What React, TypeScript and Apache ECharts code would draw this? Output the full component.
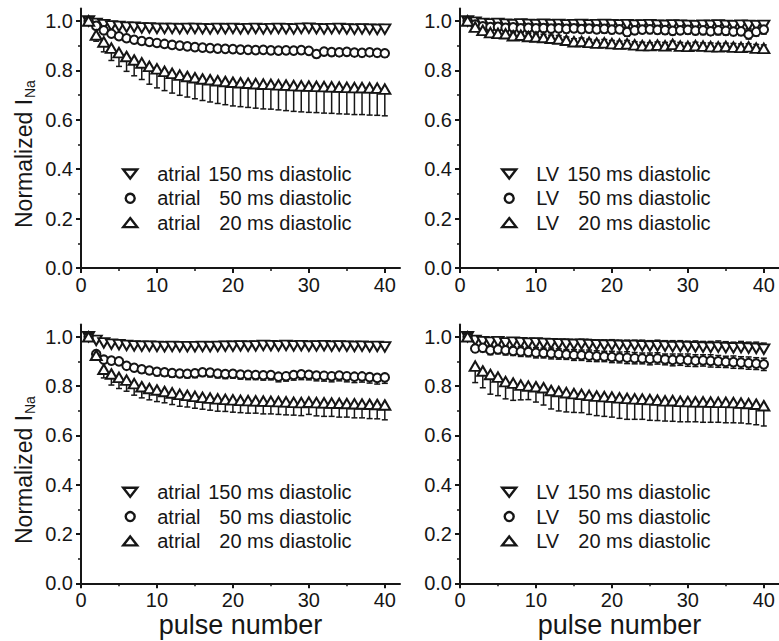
import React, { useEffect, useRef } from "react";
import * as echarts from "echarts";

// ---------- data ----------
const pulseNumbers = [1, 2, 3, 4, 5, 6, 7, 8, 9, 10, 11, 12, 13, 14, 15, 16, 17, 18, 19, 20,
  21, 22, 23, 24, 25, 26, 27, 28, 29, 30, 31, 32, 33, 34, 35, 36, 37, 38, 39, 40];

const xTickValues = [0, 10, 20, 30, 40];
const xMinorTickValues = [5, 15, 25, 35];
const yTickValues = [0, 0.2, 0.4, 0.6, 0.8, 1.0];
const yMinorTickValues = [0.1, 0.3, 0.5, 0.7, 0.9];

// top-left: atrial, set 1
const atrialA150 = [1.0, 0.99, 0.985, 0.98, 0.978, 0.975, 0.975, 0.972, 0.972, 0.97, 0.97, 0.97, 0.969, 0.97, 0.97, 0.969, 0.968, 0.97, 0.969, 0.97, 0.968, 0.969, 0.97, 0.968, 0.969, 0.97, 0.969, 0.968, 0.97, 0.971, 0.969, 0.968, 0.969, 0.97, 0.968, 0.967, 0.968, 0.967, 0.966, 0.967];
const atrialA150Err = [0, 0.005, 0.006, 0.006, 0.007, 0.007, 0.008, 0.007, 0.008, 0.008, 0.008, 0.007, 0.008, 0.008, 0.009, 0.008, 0.008, 0.009, 0.008, 0.009, 0.009, 0.008, 0.009, 0.009, 0.01, 0.009, 0.009, 0.01, 0.009, 0.01, 0.01, 0.009, 0.01, 0.01, 0.01, 0.011, 0.01, 0.01, 0.011, 0.011];
const atrialA50 = [1.0, 0.98, 0.962, 0.948, 0.938, 0.93, 0.924, 0.919, 0.915, 0.911, 0.907, 0.903, 0.9, 0.897, 0.894, 0.892, 0.89, 0.888, 0.887, 0.886, 0.884, 0.883, 0.882, 0.883, 0.881, 0.88, 0.881, 0.88, 0.882, 0.879, 0.866, 0.876, 0.874, 0.873, 0.875, 0.872, 0.871, 0.873, 0.871, 0.869];
const atrialA50Err = [0, 0.006, 0.008, 0.008, 0.009, 0.009, 0.01, 0.01, 0.011, 0.01, 0.011, 0.011, 0.012, 0.011, 0.012, 0.012, 0.012, 0.013, 0.012, 0.013, 0.013, 0.012, 0.013, 0.013, 0.014, 0.013, 0.014, 0.013, 0.014, 0.014, 0.015, 0.014, 0.014, 0.015, 0.014, 0.015, 0.015, 0.014, 0.015, 0.015];
const atrialA20 = [1.0, 0.943, 0.915, 0.89, 0.872, 0.856, 0.842, 0.83, 0.816, 0.806, 0.796, 0.788, 0.781, 0.775, 0.77, 0.765, 0.762, 0.758, 0.755, 0.752, 0.75, 0.748, 0.746, 0.744, 0.743, 0.741, 0.74, 0.738, 0.737, 0.736, 0.735, 0.734, 0.733, 0.732, 0.731, 0.73, 0.73, 0.729, 0.728, 0.724];
const atrialA20Err = [0, 0.025, 0.04, 0.05, 0.056, 0.06, 0.064, 0.067, 0.072, 0.077, 0.078, 0.08, 0.082, 0.083, 0.085, 0.087, 0.09, 0.092, 0.094, 0.096, 0.097, 0.098, 0.099, 0.1, 0.1, 0.101, 0.103, 0.104, 0.105, 0.106, 0.106, 0.107, 0.107, 0.108, 0.108, 0.109, 0.109, 0.11, 0.11, 0.108];

// top-right: LV, set 1
const lvA150 = [1.0, 0.995, 0.99, 0.988, 0.99, 0.987, 0.985, 0.988, 0.986, 0.985, 0.987, 0.985, 0.986, 0.984, 0.985, 0.986, 0.984, 0.985, 0.986, 0.985, 0.984, 0.985, 0.983, 0.984, 0.985, 0.983, 0.982, 0.984, 0.983, 0.982, 0.981, 0.983, 0.982, 0.984, 0.982, 0.981, 0.983, 0.982, 0.981, 0.982];
const lvA150Err = [0, 0.01, 0.012, 0.011, 0.013, 0.012, 0.011, 0.013, 0.012, 0.012, 0.013, 0.011, 0.012, 0.013, 0.012, 0.014, 0.012, 0.013, 0.012, 0.013, 0.014, 0.012, 0.013, 0.014, 0.013, 0.012, 0.014, 0.013, 0.014, 0.012, 0.013, 0.014, 0.013, 0.012, 0.014, 0.013, 0.014, 0.013, 0.014, 0.013];
const lvA50 = [1.0, 0.985, 0.978, 0.975, 0.976, 0.972, 0.974, 0.97, 0.972, 0.97, 0.971, 0.969, 0.97, 0.968, 0.97, 0.967, 0.969, 0.966, 0.968, 0.965, 0.966, 0.955, 0.962, 0.965, 0.966, 0.964, 0.963, 0.96, 0.962, 0.964, 0.961, 0.962, 0.958, 0.962, 0.96, 0.957, 0.958, 0.945, 0.956, 0.965];
const lvA50Err = [0, 0.012, 0.014, 0.013, 0.015, 0.014, 0.015, 0.014, 0.016, 0.015, 0.014, 0.016, 0.015, 0.016, 0.015, 0.014, 0.016, 0.015, 0.017, 0.016, 0.015, 0.017, 0.016, 0.015, 0.017, 0.016, 0.017, 0.016, 0.015, 0.017, 0.016, 0.017, 0.016, 0.018, 0.017, 0.016, 0.017, 0.018, 0.017, 0.018];
const lvA20 = [1.0, 0.975, 0.962, 0.953, 0.95, 0.948, 0.94, 0.942, 0.937, 0.935, 0.933, 0.93, 0.927, 0.922, 0.916, 0.917, 0.913, 0.91, 0.911, 0.908, 0.906, 0.907, 0.903, 0.9, 0.9, 0.902, 0.899, 0.905, 0.898, 0.897, 0.9, 0.898, 0.896, 0.895, 0.897, 0.894, 0.893, 0.895, 0.89, 0.889];
const lvA20Err = [0, 0.01, 0.012, 0.011, 0.012, 0.013, 0.012, 0.011, 0.013, 0.012, 0.013, 0.012, 0.014, 0.013, 0.012, 0.014, 0.013, 0.012, 0.014, 0.013, 0.012, 0.014, 0.013, 0.014, 0.012, 0.013, 0.014, 0.013, 0.015, 0.013, 0.014, 0.013, 0.015, 0.014, 0.013, 0.015, 0.014, 0.013, 0.015, 0.014];

// bottom-left: atrial, set 2
const atrialB150 = [1.0, 0.985, 0.975, 0.97, 0.968, 0.965, 0.963, 0.962, 0.962, 0.961, 0.96, 0.961, 0.96, 0.96, 0.96, 0.961, 0.96, 0.961, 0.962, 0.962, 0.963, 0.962, 0.963, 0.965, 0.964, 0.963, 0.965, 0.963, 0.964, 0.962, 0.963, 0.964, 0.962, 0.963, 0.962, 0.961, 0.962, 0.96, 0.961, 0.959];
const atrialB150Err = [0, 0.006, 0.007, 0.007, 0.008, 0.008, 0.009, 0.008, 0.009, 0.009, 0.008, 0.009, 0.009, 0.01, 0.009, 0.01, 0.009, 0.01, 0.01, 0.009, 0.01, 0.011, 0.01, 0.01, 0.011, 0.01, 0.011, 0.01, 0.011, 0.011, 0.01, 0.011, 0.012, 0.011, 0.011, 0.012, 0.011, 0.012, 0.012, 0.012];
const atrialB50 = [1.0, 0.93, 0.907, 0.903, 0.9, 0.882, 0.874, 0.868, 0.863, 0.858, 0.856, 0.853, 0.851, 0.85, 0.852, 0.856, 0.855, 0.851, 0.849, 0.85, 0.847, 0.846, 0.845, 0.844, 0.845, 0.838, 0.84, 0.845, 0.848, 0.846, 0.843, 0.842, 0.84, 0.843, 0.84, 0.838, 0.839, 0.836, 0.833, 0.835];
const atrialB50Err = [0, 0.01, 0.012, 0.013, 0.013, 0.014, 0.014, 0.015, 0.015, 0.016, 0.016, 0.017, 0.016, 0.017, 0.018, 0.017, 0.018, 0.018, 0.019, 0.018, 0.019, 0.02, 0.019, 0.02, 0.02, 0.021, 0.02, 0.021, 0.022, 0.021, 0.022, 0.022, 0.023, 0.022, 0.023, 0.024, 0.023, 0.024, 0.025, 0.024];
const atrialB20 = [1.0, 0.925, 0.868, 0.849, 0.835, 0.824, 0.81, 0.797, 0.79, 0.784, 0.778, 0.772, 0.766, 0.762, 0.758, 0.754, 0.751, 0.748, 0.746, 0.744, 0.742, 0.741, 0.74, 0.739, 0.738, 0.737, 0.736, 0.734, 0.733, 0.735, 0.733, 0.732, 0.731, 0.73, 0.729, 0.728, 0.727, 0.726, 0.725, 0.723];
const atrialB20Err = [0, 0.02, 0.035, 0.045, 0.045, 0.045, 0.047, 0.045, 0.046, 0.047, 0.046, 0.047, 0.048, 0.047, 0.048, 0.048, 0.049, 0.05, 0.049, 0.05, 0.05, 0.051, 0.05, 0.052, 0.051, 0.052, 0.053, 0.052, 0.053, 0.05, 0.054, 0.055, 0.054, 0.056, 0.055, 0.057, 0.056, 0.058, 0.058, 0.06];

// bottom-right: LV, set 2
const lvB150 = [1.0, 0.985, 0.98, 0.978, 0.98, 0.975, 0.978, 0.976, 0.974, 0.975, 0.973, 0.972, 0.971, 0.97, 0.969, 0.97, 0.968, 0.967, 0.966, 0.966, 0.965, 0.964, 0.965, 0.963, 0.962, 0.963, 0.962, 0.96, 0.961, 0.96, 0.959, 0.958, 0.957, 0.958, 0.956, 0.955, 0.956, 0.954, 0.953, 0.95];
const lvB150Err = [0, 0.012, 0.014, 0.015, 0.016, 0.015, 0.017, 0.016, 0.018, 0.017, 0.018, 0.019, 0.018, 0.02, 0.019, 0.02, 0.021, 0.02, 0.021, 0.022, 0.021, 0.022, 0.021, 0.023, 0.022, 0.023, 0.022, 0.024, 0.023, 0.022, 0.024, 0.023, 0.024, 0.025, 0.024, 0.023, 0.025, 0.024, 0.025, 0.024];
const lvB50 = [1.0, 0.952, 0.955, 0.945, 0.948, 0.945, 0.942, 0.94, 0.938, 0.935, 0.934, 0.932, 0.93, 0.928, 0.926, 0.925, 0.923, 0.921, 0.92, 0.918, 0.916, 0.915, 0.913, 0.912, 0.91, 0.912, 0.908, 0.906, 0.907, 0.905, 0.903, 0.904, 0.902, 0.9, 0.898, 0.897, 0.895, 0.893, 0.891, 0.888];
const lvB50Err = [0, 0.015, 0.016, 0.018, 0.017, 0.019, 0.018, 0.02, 0.019, 0.021, 0.02, 0.022, 0.021, 0.02, 0.022, 0.021, 0.023, 0.022, 0.021, 0.023, 0.022, 0.024, 0.023, 0.022, 0.024, 0.023, 0.022, 0.024, 0.023, 0.025, 0.024, 0.023, 0.025, 0.024, 0.023, 0.025, 0.024, 0.025, 0.024, 0.025];
const lvB20 = [1.0, 0.881, 0.861, 0.847, 0.836, 0.818, 0.812, 0.804, 0.8, 0.797, 0.793, 0.782, 0.778, 0.773, 0.769, 0.766, 0.762, 0.759, 0.757, 0.755, 0.752, 0.75, 0.748, 0.747, 0.745, 0.743, 0.74, 0.741, 0.738, 0.737, 0.736, 0.736, 0.735, 0.734, 0.734, 0.733, 0.731, 0.729, 0.726, 0.72];
const lvB20Err = [0, 0.067, 0.068, 0.08, 0.075, 0.07, 0.07, 0.06, 0.055, 0.062, 0.07, 0.075, 0.079, 0.078, 0.076, 0.074, 0.077, 0.079, 0.08, 0.081, 0.083, 0.085, 0.083, 0.082, 0.084, 0.083, 0.082, 0.084, 0.083, 0.082, 0.081, 0.083, 0.082, 0.081, 0.083, 0.082, 0.081, 0.082, 0.083, 0.082];

const legendTissue = ["atrial", "LV", "atrial", "LV"];
const legendIntervals = ["150", "50", "20"];
const legendSuffix = " ms diastolic";

// ---------- styling ----------
const FONT = "'Liberation Sans', Arial, Helvetica, sans-serif";
const INK = "#161616";
const DOWN_ICON = "path://M0,0L14,0L7,9Z";
const UP_ICON = "path://M7,0L14,9L0,9Z";

type Side = "up" | "down" | "both";

const panels = [
  { left: 81, top: 8.6, height: 259.4, sets: [[atrialA150, atrialA150Err, "up"], [atrialA50, atrialA50Err, "down"], [atrialA20, atrialA20Err, "down"]] },
  { left: 460, top: 8.6, height: 259.4, sets: [[lvA150, lvA150Err, "both"], [lvA50, lvA50Err, "both"], [lvA20, lvA20Err, "both"]] },
  { left: 81, top: 324.4, height: 258.9, sets: [[atrialB150, atrialB150Err, "up"], [atrialB50, atrialB50Err, "down"], [atrialB20, atrialB20Err, "down"]] },
  { left: 460, top: 324.4, height: 258.9, sets: [[lvB150, lvB150Err, "up"], [lvB50, lvB50Err, "both"], [lvB20, lvB20Err, "down"]] },
] as { left: number; top: number; height: number; sets: [number[], number[], Side][] }[];

const symbolDefs = [
  { symbol: "triangle", rotate: 180, size: [11, 9.5] },
  { symbol: "circle", rotate: 0, size: 8.5 },
  { symbol: "triangle", rotate: 0, size: [11, 9.5] },
];

function buildOption() {
  const grid: any[] = [];
  const xAxis: any[] = [];
  const yAxis: any[] = [];
  const series: any[] = [];
  const legend: any[] = [];
  const graphic: any[] = [];
  const n = panels.length;

  panels.forEach((p, i) => {
    grid.push({ left: p.left, top: p.top, width: 319, height: p.height, containLabel: false, outerBoundsMode: "none" });
    const bottomRow = i >= 2;
    xAxis[i] = {
      type: "value", gridIndex: i, min: 0, max: 42, position: "bottom",
      axisLine: { show: true, onZero: false, lineStyle: { color: INK, width: 2 } },
      axisTick: { show: true, length: 5, customValues: xTickValues, lineStyle: { color: INK, width: 2 } },
      axisLabel: { show: true, customValues: xTickValues, fontSize: 20, fontFamily: FONT, color: INK, margin: 7 },
      splitLine: { show: false },
      name: bottomRow ? "pulse number" : "",
      nameLocation: "middle", nameGap: 28,
      nameTextStyle: { fontSize: 27, fontFamily: FONT, color: INK },
    };
    xAxis[n + i] = {
      type: "value", gridIndex: i, min: 0, max: 42, position: "bottom",
      axisLine: { show: false, onZero: false },
      axisTick: { show: true, length: 3, customValues: xMinorTickValues, lineStyle: { color: INK, width: 1.5 } },
      axisLabel: { show: false }, splitLine: { show: false },
    };
    yAxis[i] = {
      type: "value", gridIndex: i, min: 0, max: 1.05, position: "left",
      axisLine: { show: true, onZero: false, lineStyle: { color: INK, width: 2 } },
      axisTick: { show: true, length: 5, customValues: yTickValues, lineStyle: { color: INK, width: 2 } },
      axisLabel: {
        show: true, customValues: yTickValues, fontSize: 20, fontFamily: FONT, color: INK, margin: 8,
        formatter: (v: number) => v.toFixed(1),
      },
      splitLine: { show: false },
    };
    yAxis[n + i] = {
      type: "value", gridIndex: i, min: 0, max: 1.05, position: "left",
      axisLine: { show: false, onZero: false },
      axisTick: { show: true, length: 3, customValues: yMinorTickValues, lineStyle: { color: INK, width: 1.5 } },
      axisLabel: { show: false }, splitLine: { show: false },
    };

    const names: string[] = [];
    p.sets.forEach(([vals, errs, side], k) => {
      const name = `${legendTissue[i]}-${i}-${legendIntervals[k]}`;
      names.push(name);
      series.push({
        type: "custom", xAxisIndex: i, yAxisIndex: i, silent: true, z: 2,
        encode: { x: 0, y: 1 },
        data: pulseNumbers.map((x, j) => [x, vals[j], side !== "up" ? errs[j] : 0, side !== "down" ? errs[j] : 0]),
        renderItem: (_params: any, api: any) => {
          const x = api.value(0), y = api.value(1), lo = api.value(2), hi = api.value(3);
          const top = api.coord([x, y + hi]);
          const bot = api.coord([x, y - lo]);
          const st = { stroke: INK, lineWidth: 1.5 };
          const children: any[] = [
            { type: "line", shape: { x1: top[0], y1: top[1], x2: bot[0], y2: bot[1] }, style: st },
          ];
          if (hi > 0) children.push({ type: "line", shape: { x1: top[0] - 3, y1: top[1], x2: top[0] + 3, y2: top[1] }, style: st });
          if (lo > 0) children.push({ type: "line", shape: { x1: bot[0] - 3, y1: bot[1], x2: bot[0] + 3, y2: bot[1] }, style: st });
          return { type: "group", children };
        },
      });
      const sd = symbolDefs[k];
      series.push({
        type: "scatter", name, xAxisIndex: i, yAxisIndex: i, z: 3,
        symbol: sd.symbol, symbolRotate: sd.rotate, symbolSize: sd.size,
        itemStyle: { color: "#ffffff", borderColor: INK, borderWidth: 2, opacity: 1 },
        data: pulseNumbers.map((x, j) => [x, vals[j]]),
      });
    });

    const isLV = legendTissue[i] === "LV";
    legend.push({
      orient: "vertical",
      left: isLV ? 501 : 122,
      top: bottomRow ? 482.3 : 164,
      itemWidth: 44, itemHeight: 9, itemGap: 4.3,
      selectedMode: false,
      padding: 0,
      data: [
        { name: names[0], icon: DOWN_ICON },
        { name: names[1], icon: "circle" },
        { name: names[2], icon: UP_ICON },
      ],
      itemStyle: { color: "#ffffff", borderColor: INK, borderWidth: 2.4 },
      formatter: (name: string) => {
        const k = names.indexOf(name);
        const num = legendIntervals[k];
        const pad = num.length < 3 ? "{s| }" : "";
        return `{a|${legendTissue[i]}}${pad}{b|${num}}{c|${legendSuffix}}`;
      },
      textStyle: {
        fontSize: 20, fontFamily: FONT, color: INK,
        rich: {
          a: { width: isLV ? 31 : 51, fontSize: 20, fontFamily: FONT, color: INK, lineHeight: 20 },
          s: { width: 11.1, fontSize: 20, fontFamily: FONT, color: INK, lineHeight: 20 },
          b: { fontSize: 20, fontFamily: FONT, color: INK, lineHeight: 20 },
          c: { fontSize: 20, fontFamily: FONT, color: INK, lineHeight: 20 },
        },
      },
    });

    if (i === 0 || i === 2) {
      const y0 = i === 0 ? 228 : 544;
      graphic.push({
        type: "text", x: 24, y: y0, rotation: Math.PI / 2, silent: true,
        style: { text: "Normalized I", fontSize: 23, fontFamily: FONT, fill: INK, align: "left", verticalAlign: "middle" },
      });
      graphic.push({
        type: "text", x: 29.5, y: y0 - 130, rotation: Math.PI / 2, silent: true,
        style: { text: "Na", fontSize: 14, fontFamily: FONT, fill: INK, align: "left", verticalAlign: "middle" },
      });
    }
  });

  return {
    animation: false,
    backgroundColor: "#ffffff",
    grid, xAxis, yAxis, series, legend, graphic,
  };
}

export default function App() {
  const ref = useRef<HTMLDivElement>(null);
  useEffect(() => {
    if (!ref.current) return;
    const chart = echarts.init(ref.current, undefined, { renderer: "svg" });
    chart.setOption(buildOption() as any);
    return () => chart.dispose();
  }, []);
  return (
    <div
      ref={ref}
      style={{ position: "fixed", left: 0, top: 0, width: 779, height: 641, background: "#fff" }}
    />
  );
}
